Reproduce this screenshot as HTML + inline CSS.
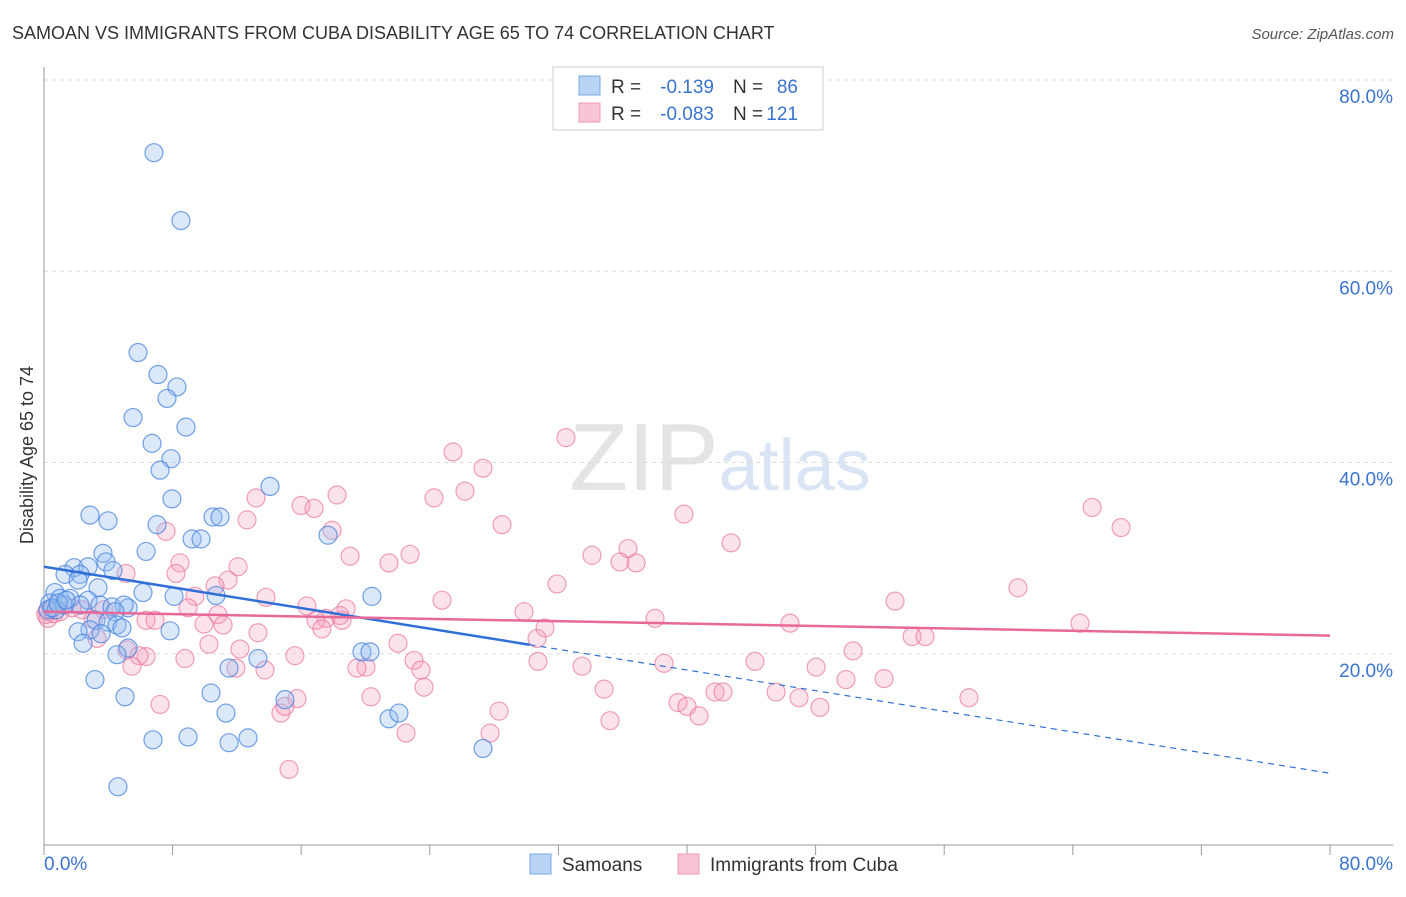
<!DOCTYPE html>
<html><head><meta charset="utf-8"><style>
body{margin:0;background:#fff;font-family:"Liberation Sans",sans-serif;}
svg text{font-family:"Liberation Sans",sans-serif;}
</style></head><body>
<svg id="chart" width="1406" height="892" xmlns="http://www.w3.org/2000/svg">
<text x="12" y="39" font-size="18" fill="#333">SAMOAN VS IMMIGRANTS FROM CUBA DISABILITY AGE 65 TO 74 CORRELATION CHART</text>
<text x="1394" y="39" font-size="15" fill="#555" text-anchor="end" font-style="italic">Source: ZipAtlas.com</text>
<text x="720" y="490" font-size="96" text-anchor="middle" fill="#e8e8e8" font-family="Liberation Serif"><tspan fill="#e4e4e4">ZIP</tspan><tspan fill="#d9e5f4" font-family="Liberation Sans" font-size="72">atlas</tspan></text>
<g id="grid"></g>
<g id="axes"></g>
<g id="pts"></g>
<g id="lines"></g>
<text transform="translate(33,455) rotate(-90)" font-size="18" fill="#333" text-anchor="middle">Disability Age 65 to 74</text>
<g>
<rect x="553" y="67" width="270" height="63" fill="#fff" stroke="#ccc"/>
<rect x="579" y="76" width="21" height="19" fill="#b8d3f4" stroke="#7aa8e8"/>
<rect x="579" y="103" width="21" height="19" fill="#f8c5d4" stroke="#ee9ab5"/>
<text x="611" y="93" font-size="19" fill="#333">R =</text>
<text x="714" y="93" font-size="19" fill="#3a73d0" text-anchor="end">-0.139</text>
<text x="733" y="93" font-size="19" fill="#333">N =</text>
<text x="798" y="93" font-size="19" fill="#3a73d0" text-anchor="end">86</text>
<text x="611" y="120" font-size="19" fill="#333">R =</text>
<text x="714" y="120" font-size="19" fill="#3a73d0" text-anchor="end">-0.083</text>
<text x="733" y="120" font-size="19" fill="#333">N =</text>
<text x="798" y="120" font-size="19" fill="#3a73d0" text-anchor="end">121</text>
</g>
<g>
<rect x="530" y="854" width="21" height="20" fill="#b8d3f4" stroke="#7aa8e8"/>
<text x="562" y="871" font-size="19" fill="#333">Samoans</text>
<rect x="678" y="854" width="21" height="20" fill="#f8c5d4" stroke="#ee9ab5"/>
<text x="710" y="871" font-size="19" fill="#333">Immigrants from Cuba</text>
</g>
</svg>
<script>
const xTicks=[0,8,16,24,32,40,48,56,64,72,80];
const yTicks=[20,40,60,80];
const yTickLabels=["20.0%","40.0%","60.0%","80.0%"];
const xEndLabels=["0.0%","80.0%"];
const blueX=[6.84,8.52,5.85,7.09,8.27,7.65,5.54,6.72,8.83,7.9,7.22,7.96,14.06,2.86,3.98,7.03,10.51,10.95,9.21,9.77,6.35,3.67,17.67,3.86,1.87,2.74,2.24,4.29,1.31,2.12,3.36,6.16,8.09,10.7,20.4,0.68,1.0,1.62,2.74,0.37,0.25,0.75,1.24,2.24,3.48,4.23,5.23,4.98,4.42,3.23,3.98,4.54,2.86,4.85,3.55,2.12,2.43,7.84,5.23,4.54,19.78,20.28,13.31,11.51,3.17,10.39,5.04,14.99,11.32,21.46,22.08,6.78,8.96,11.51,12.69,27.31,4.6,0.5,0.87,1.37];
const blueY=[72.4,65.3,51.5,49.2,47.9,46.7,44.7,42.0,43.7,40.4,39.2,36.2,37.5,34.5,33.9,33.5,34.3,34.3,32.0,32.0,30.7,30.5,32.4,29.6,29.0,29.1,28.3,28.7,28.3,27.7,26.9,26.4,26.0,26.1,26.0,26.4,25.8,25.8,25.6,25.3,24.6,24.6,25.1,25.1,25.1,24.9,24.8,25.1,24.4,23.5,23.3,23.0,22.5,22.7,22.1,22.3,21.1,22.4,20.6,19.9,20.2,20.2,19.5,18.5,17.3,15.9,15.5,15.2,13.8,13.2,13.8,11.0,11.3,10.7,11.2,10.1,6.1,24.8,25.3,25.6];
const pinkX=[32.47,25.44,27.31,26.19,24.26,13.19,18.23,15.99,16.8,12.63,28.49,39.81,17.92,7.59,65.2,67.0,42.74,36.33,22.77,19.04,34.09,35.83,36.83,8.46,12.07,21.46,5.1,11.45,10.64,8.21,31.91,60.59,13.81,9.39,24.76,52.94,16.36,18.79,29.86,10.82,38.01,8.96,6.35,6.91,17.54,18.54,16.92,2.36,3.73,1.74,1.0,0.19,3.05,18.41,17.29,9.95,11.14,46.41,64.45,13.31,31.17,30.67,22.02,54.0,54.81,10.26,12.19,5.16,6.35,5.91,50.33,3.3,8.77,11.94,15.61,23.02,23.45,30.73,33.47,38.57,44.23,48.03,23.64,20.03,19.47,13.75,5.47,49.89,52.26,34.84,39.44,40.0,41.74,42.24,45.54,46.97,48.27,20.34,15.74,14.74,14.99,28.31,7.22,57.54,27.75,22.52,35.21,40.75,15.24,0.25,0.62,0.1];
const pinkY=[42.6,41.1,39.4,37.0,36.3,36.3,36.6,35.5,35.2,34.0,33.5,34.6,32.9,32.8,35.3,33.2,31.6,31.0,30.4,30.2,30.3,29.6,29.5,29.5,29.1,29.5,28.4,27.7,27.1,28.4,27.3,26.9,25.9,26.0,25.6,25.5,25.0,24.7,24.4,24.1,23.7,24.8,23.5,23.5,23.7,23.5,23.5,24.6,24.6,24.8,24.4,24.4,23.6,24.0,22.6,23.1,23.0,23.2,23.2,22.2,22.7,21.6,21.1,21.8,21.8,21.0,20.5,20.4,19.7,19.8,20.3,21.6,19.5,18.5,19.8,19.3,18.3,19.2,18.7,19.0,19.2,18.6,16.5,18.6,18.5,18.3,18.7,17.3,17.4,16.3,14.9,14.5,16.0,16.0,16.0,15.4,14.4,15.5,15.3,13.8,14.5,14.0,14.7,15.4,11.7,11.7,13.0,13.5,7.9,23.7,24.2,24.1];
const blueTrend=[29.1,7.5], blueSolidEnd=30.2;
const pinkTrend=[24.4,21.9];
const X0=44,X1=1330,Y0=845,Y80=80;
const sx=v=>X0+(X1-X0)*v/80;
const sy=v=>Y0-(Y0-Y80)*v/80;
const NS="http://www.w3.org/2000/svg";
function mk(tag,attrs,parent){const e=document.createElementNS(NS,tag);for(const k in attrs)e.setAttribute(k,attrs[k]);parent.appendChild(e);return e;}
const grid=document.getElementById('grid'),axes=document.getElementById('axes'),pts=document.getElementById('pts'),lines=document.getElementById('lines');
yTicks.forEach((t,i)=>{
 const l=mk('line',{x1:X0,x2:1393,y1:sy(t),y2:sy(t),stroke:'#ddd','stroke-dasharray':'4,4'},grid);
 
 
 const tx=mk('text',{x:1393,y:sy(t)+23,'font-size':19,fill:'#3a73d0','text-anchor':'end'},axes);
 tx.textContent=yTickLabels[i];
 
 
});
const ya=mk('line',{x1:X0,x2:X0,y1:67,y2:Y0,stroke:'#999'},axes);


const xa=mk('line',{x1:X0,x2:1393,y1:Y0,y2:Y0,stroke:'#999'},axes);


xTicks.forEach(t=>{
 const l=mk('line',{x1:sx(t),x2:sx(t),y1:Y0,y2:Y0+10,stroke:'#999'},axes);
 
 
});
const xl0=mk('text',{x:44,y:870,'font-size':19,fill:'#3a73d0'},axes);xl0.textContent=xEndLabels[0];


const xl1=mk('text',{x:1393,y:870,'font-size':19,fill:'#3a73d0','text-anchor':'end'},axes);xl1.textContent=xEndLabels[1];


pinkX.forEach((v,i)=>{
 const c=mk('circle',{cx:sx(v),cy:sy(pinkY[i]),r:9,fill:'rgba(244,160,188,0.3)',stroke:'rgba(232,120,158,0.7)','stroke-width':1.2},pts);
 
 
});
blueX.forEach((v,i)=>{
 const c=mk('circle',{cx:sx(v),cy:sy(blueY[i]),r:9,fill:'rgba(150,190,240,0.35)',stroke:'rgba(70,130,220,0.75)','stroke-width':1.2},pts);
 
 
});
const bAt=x=>blueTrend[0]+(blueTrend[1]-blueTrend[0])*x/80;
const b1=mk('line',{x1:sx(0),y1:sy(bAt(0)),x2:sx(blueSolidEnd),y2:sy(bAt(blueSolidEnd)),stroke:'#2f6fd6','stroke-width':2.5},lines);


const b2=mk('line',{x1:sx(blueSolidEnd),y1:sy(bAt(blueSolidEnd)),x2:sx(80),y2:sy(bAt(80)),stroke:'#2f6fd6','stroke-width':1.2,'stroke-dasharray':'6,5'},lines);


const p1=mk('line',{x1:sx(0),y1:sy(pinkTrend[0]),x2:sx(80),y2:sy(pinkTrend[1]),stroke:'#e8689a','stroke-width':2.5},lines);


</script>
</body></html>
